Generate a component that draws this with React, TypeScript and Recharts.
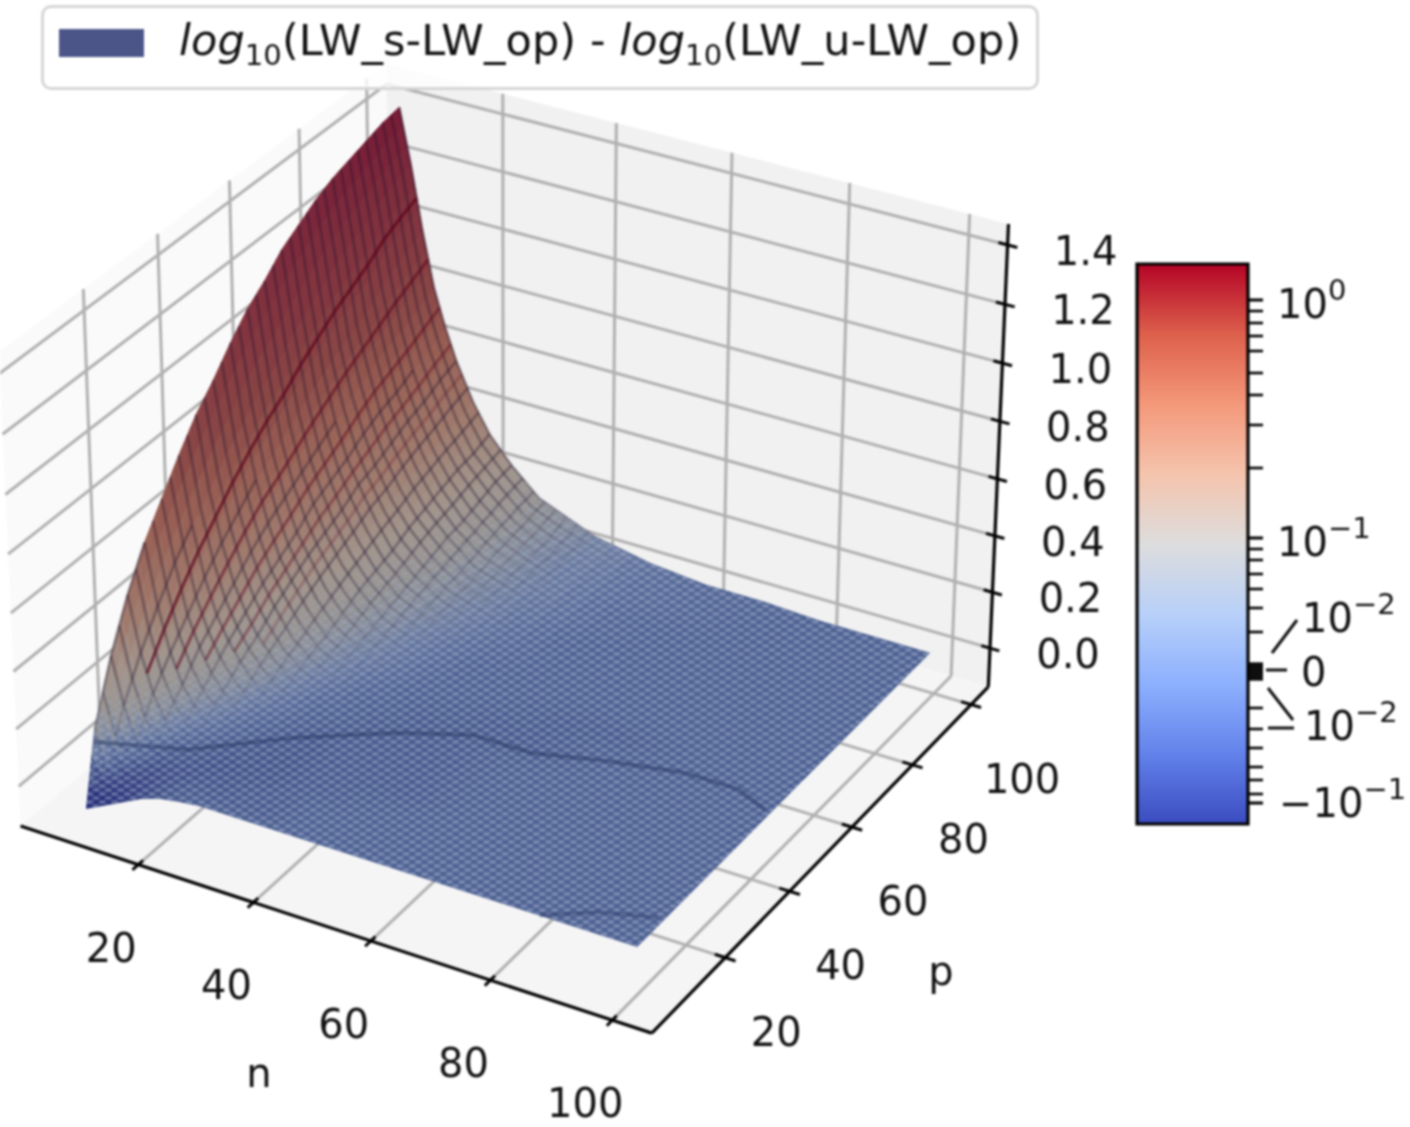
import React from "react";
import { ScatterChart, Scatter, XAxis, YAxis, Legend } from "recharts";

// ---------- data ----------
const nGrid = [5, 7, 9, 11, 13, 15, 18, 21, 25, 30, 35, 40, 50, 60, 70, 80, 90, 99];
const pGrid = [7, 10, 15, 20, 25, 30, 35, 40, 45, 50, 55, 60, 65, 70, 75, 80, 85, 90, 95, 100];
const zByP = [
  [-0.14,-0.12,-0.10,-0.08,-0.06,-0.04,-0.02,-0.01,0,0,0,0,0,0,0,0,0,0],
  [0.11,-0.01,-0.06,-0.06,-0.05,-0.04,-0.02,-0.01,-0.01,-0.01,-0.01,0,0,0,0,0,0,0],
  [0.31,0.15,0.04,-0.02,-0.04,-0.03,-0.03,-0.02,-0.02,-0.01,-0.01,0,0,0,0,0,0,0],
  [0.47,0.28,0.15,0.07,0.01,-0.01,-0.02,-0.03,-0.02,-0.02,-0.01,-0.01,0,0,0,0,0,0],
  [0.60,0.39,0.24,0.14,0.08,0.04,0,-0.01,-0.02,-0.02,-0.01,-0.01,-0.01,0,0,0,0,0],
  [0.70,0.49,0.32,0.22,0.14,0.09,0.03,0,-0.01,-0.02,-0.01,-0.01,-0.01,0,0,0,0,0],
  [0.80,0.57,0.40,0.28,0.20,0.14,0.07,0.03,0,-0.01,-0.01,-0.01,-0.01,0,0,0,0,0],
  [0.89,0.64,0.47,0.34,0.25,0.18,0.11,0.06,0.01,0,-0.01,-0.01,-0.01,0,0,0,0,0],
  [0.96,0.72,0.53,0.40,0.30,0.23,0.14,0.09,0.04,0,0,-0.01,-0.01,-0.01,0,0,0,0],
  [1.04,0.78,0.59,0.45,0.34,0.27,0.18,0.11,0.06,0.02,0,0,-0.01,-0.01,0,0,0,0],
  [1.11,0.85,0.63,0.49,0.38,0.31,0.21,0.14,0.08,0.04,0.01,0,0,-0.01,-0.01,0,0,0],
  [1.16,0.89,0.68,0.53,0.43,0.34,0.24,0.17,0.10,0.05,0.02,0,0,0,0,0,0,0],
  [1.22,0.95,0.73,0.57,0.46,0.37,0.27,0.19,0.12,0.07,0.03,0.01,0,0,0,0,0,0],
  [1.26,1.00,0.77,0.61,0.49,0.41,0.30,0.21,0.14,0.08,0.05,0.02,0,0,0,0,0,0],
  [1.30,1.05,0.81,0.65,0.53,0.43,0.32,0.24,0.16,0.09,0.06,0.03,0,0,0,0,0,0],
  [1.33,1.09,0.84,0.69,0.56,0.46,0.35,0.26,0.18,0.10,0.07,0.04,0.01,0,0,0,0,0],
  [1.35,1.12,0.88,0.72,0.58,0.49,0.37,0.28,0.19,0.12,0.08,0.05,0.01,0,0,0,0,0],
  [1.37,1.16,0.93,0.74,0.61,0.51,0.39,0.30,0.21,0.13,0.08,0.05,0.02,0.01,0,0,0,0],
  [1.39,1.19,0.96,0.77,0.64,0.54,0.41,0.31,0.23,0.14,0.09,0.06,0.02,0.01,0,0,0,0],
  [1.40,1.21,0.99,0.80,0.67,0.56,0.43,0.33,0.24,0.15,0.11,0.07,0.03,0.01,0.01,0,0,0],
];
const nTicks = [20, 40, 60, 80, 100];
const pTicks = [20, 40, 60, 80, 100];
const zTicks = [0, 0.2, 0.4, 0.6, 0.8, 1.0, 1.2, 1.4];
const seamN = [5, 15, 27, 40, 50, 60, 71, 83, 92, 98];
const seamP = [9.5, 20, 31, 40, 45, 45, 48, 51, 51, 48];
const seam2N = [83, 90, 98];
const seam2P = [7, 12, 15];
const ridgeN = [8, 10, 12, 14, 16];
const ridgeAlpha = [0.65, 0.5, 0.42, 0.35, 0.2];
const surfaceStops = [
  [-0.1, 42, 50, 122], [-0.05, 56, 68, 130], [-0.02, 68, 86, 138], [0, 78, 98, 146], [0.02, 88, 108, 152],
  [0.05, 105, 122, 160], [0.1, 130, 138, 152], [0.15, 142, 140, 140], [0.25, 150, 135, 125], [0.4, 150, 110, 95],
  [0.6, 145, 85, 72], [0.8, 132, 62, 60], [1.0, 125, 45, 54], [1.2, 118, 32, 50], [1.44, 110, 12, 42],
];
const coolwarmStops = ["#b40426", "#dd604c", "#f4987a", "#f5c4ad", "#dddddd", "#b8d0f9", "#8db0fe", "#6282ea", "#3b4cc0"];
const cbarMinorRows = [311, 323, 336, 351, 373, 395, 425, 468, 549, 560, 574, 589, 608, 632, 708, 729, 748, 767, 780, 794];
const cbarMajorRows = [300, 538, 803];
const cbarBlobRows = [664, 667, 670, 673, 676, 679];
const legendLabel = ["log", "10", "(LW_s-LW_op) - ", "log", "10", "(LW_u-LW_op)"];

// ---------- 3D view (matplotlib default elevation 30, azimuth -60) ----------
const NL = [-0.85, 106.4];
const PL = [-2, 106];
const ZL = [-0.14, 1.49];
const ZTOP = 1.47;
const FONT = "DejaVu Sans";

function project(n: number, p: number, z: number) {
  const dx = ((n - NL[0]) / (NL[1] - NL[0]) - 0.5) * 1.14286;
  const dy = ((p - PL[0]) / (PL[1] - PL[0]) - 0.5) * 1.14286;
  const dz = ((z - ZL[0]) / (ZL[1] - ZL[0]) - 0.5) * 0.85714;
  const u = dx * 0.86603 + dy * 0.5;
  const v = dx * -0.25 + dy * 0.43301 + dz * 0.86603;
  const w = dx * 0.43301 + dy * -0.75 + dz * 0.5;
  const depth = 10 - w;
  return { x: 6330 * (u / depth) + 513, y: 523 - 6390 * (v / depth), w };
}

function zAt(n: number, p: number) {
  let i = nGrid.findIndex((v, k) => k < nGrid.length - 1 && n <= nGrid[k + 1]);
  if (i < 0) i = nGrid.length - 2;
  let j = pGrid.findIndex((v, k) => k < pGrid.length - 1 && p <= pGrid[k + 1]);
  if (j < 0) j = pGrid.length - 2;
  const a = Math.min(1, Math.max(0, (n - nGrid[i]) / (nGrid[i + 1] - nGrid[i])));
  const b = Math.min(1, Math.max(0, (p - pGrid[j]) / (pGrid[j + 1] - pGrid[j])));
  return (
    zByP[j][i] * (1 - a) * (1 - b) + zByP[j][i + 1] * a * (1 - b) + zByP[j + 1][i] * (1 - a) * b + zByP[j + 1][i + 1] * a * b
  );
}

// how strongly the drawn mesh (rather than the flat dot texture) shows at height z
function meshWeight(z: number) {
  return Math.min(1, Math.max(0, (z - 0.02) / 0.2));
}

function surfaceColor(z: number) {
  const s = surfaceStops;
  const amount = meshWeight(z) * (z > 0.8 ? 0.05 : 0.12 - (0.07 * Math.max(0, z - 0.2)) / 0.6);
  const lift = (c: number[]) => {
    const v = c.map((k) => Math.round(k + (255 - k) * amount));
    return `rgb(${v[0]},${v[1]},${v[2]})`;
  };
  if (z <= s[0][0]) return lift([s[0][1], s[0][2], s[0][3]]);
  for (let i = 1; i < s.length; i++) {
    if (z <= s[i][0]) {
      const t = (z - s[i - 1][0]) / (s[i][0] - s[i - 1][0]);
      return lift([1, 2, 3].map((k) => s[i - 1][k] + (s[i][k] - s[i - 1][k]) * t));
    }
  }
  const e = s[s.length - 1];
  return lift([e[1], e[2], e[3]]);
}

function poly(pts: { x: number; y: number }[], style: any) {
  const x = pts.reduce((a, q) => a + q.x, 0) / pts.length;
  const y = pts.reduce((a, q) => a + q.y, 0) / pts.length;
  return { x, y, rel: pts.map((q) => [q.x - x, q.y - y]), ...style };
}
function seg(a: { x: number; y: number }, b: { x: number; y: number }, stroke: string, width: number) {
  return { x: a.x, y: a.y, dx: b.x - a.x, dy: b.y - a.y, stroke, width };
}
function path(pts: { x: number; y: number }[], stroke: string, width: number) {
  return { x: pts[0].x, y: pts[0].y, rel: pts.map((q) => [q.x - pts[0].x, q.y - pts[0].y]), stroke, width };
}

// ---------- marks ----------
const [n0, n1] = NL;
const [p0, p1] = PL;
const z0 = ZL[0];
const z1 = ZTOP;
const walls = [
  poly([project(n0, p0, z0), project(n0, p1, z0), project(n0, p1, z1), project(n0, p0, z1)], { fill: "#fafafa" }),
  poly([project(n0, p1, z0), project(n1, p1, z0), project(n1, p1, z1), project(n0, p1, z1)], { fill: "#f1f1f1" }),
  poly([project(n0, p0, z0), project(n1, p0, z0), project(n1, p1, z0), project(n0, p1, z0)], { fill: "#f5f5f5" }),
];
const GRID = "#b0b0b0";
const gridSegs: any[] = [];
nTicks.forEach((n) => {
  gridSegs.push(seg(project(n, p0, z0), project(n, p1, z0), GRID, 3));
  gridSegs.push(seg(project(n, p1, z0), project(n, p1, z1), GRID, 3));
});
pTicks.forEach((p) => {
  gridSegs.push(seg(project(n1, p, z0), project(n0, p, z0), GRID, 3));
  gridSegs.push(seg(project(n0, p, z0), project(n0, p, z1), GRID, 3));
});
zTicks.forEach((z) => {
  gridSegs.push(seg(project(n1, p1, z), project(n0, p1, z), GRID, 3));
  gridSegs.push(seg(project(n0, p1, z), project(n0, p0, z), GRID, 3));
});
const axisSegs: any[] = [
  seg(project(n0, p0, z0), project(n1, p0, z0), "#000", 3.2),
  seg(project(n1, p0, z0), project(n1, p1, z0), "#000", 3.2),
  seg(project(n1, p1, z0), project(n1, p1, z1), "#000", 3.2),
];
nTicks.forEach((n) => axisSegs.push(seg(project(n, p0 - 1.6, z0), project(n, p0 + 1.3, z0), "#000", 3)));
pTicks.forEach((p) => axisSegs.push(seg(project(n1 - 1.7, p, z0), project(n1 + 1.7, p, z0), "#000", 3)));
zTicks.forEach((z) => axisSegs.push(seg(project(n1 - 1.5, p1, z), project(n1 + 1.6, p1, z), "#000", 3)));

// surface facets: each measured table cell is shaded in three steps per side
const SHADE_STEPS = 3;
const corner = (n: number, p: number) => project(n, p, zAt(n, p));
const cells: any[] = [];
const flatCells: any[] = [];
for (let j = 0; j < pGrid.length - 1; j++) {
  for (let i = 0; i < nGrid.length - 1; i++) {
    for (let a = 0; a < SHADE_STEPS; a++) {
      for (let b = 0; b < SHADE_STEPS; b++) {
        const na = nGrid[i] + ((nGrid[i + 1] - nGrid[i]) * a) / SHADE_STEPS;
        const nb = nGrid[i] + ((nGrid[i + 1] - nGrid[i]) * (a + 1)) / SHADE_STEPS;
        const pa = pGrid[j] + ((pGrid[j + 1] - pGrid[j]) * b) / SHADE_STEPS;
        const pb = pGrid[j] + ((pGrid[j + 1] - pGrid[j]) * (b + 1)) / SHADE_STEPS;
        const pts = [corner(na, pa), corner(nb, pa), corner(nb, pb), corner(na, pb)];
        const zMid = zAt((na + nb) / 2, (pa + pb) / 2);
        const col = surfaceColor(zMid);
        cells.push({
          ...poly(pts, { fill: col, stroke: col }),
          depth: (pts[0].w + pts[1].w + pts[2].w + pts[3].w) / 4,
        });
        const w = meshWeight(zMid);
        if (w < 1) flatCells.push(poly(pts, { fill: "url(#meshDots)", opacity: 1 - w }));
      }
    }
  }
}
cells.sort((a, b) => a.depth - b.depth);

// mesh texture on the raised part: pieces of the surface lines at constant p and constant n
const meshLines: any[] = [];
function addMeshPiece(na: number, pa: number, nb: number, pb: number) {
  const w = meshWeight(zAt((na + nb) / 2, (pa + pb) / 2));
  if (w <= 0) return;
  meshLines.push(seg(corner(na, pa), corner(nb, pb), `rgba(28,15,45,${(0.32 * w).toFixed(3)})`, 2.8));
}
for (let p = 7.5; p <= 100; p += 2.5) {
  for (let i = 0; i < nGrid.length - 1; i++) {
    const mid = (nGrid[i] + nGrid[i + 1]) / 2;
    addMeshPiece(nGrid[i], p, mid, p);
    addMeshPiece(mid, p, nGrid[i + 1], p);
  }
}
for (let n = 5; n <= 40; n += 2) {
  for (let j = 0; j < pGrid.length - 1; j++) {
    const mid = (pGrid[j] + pGrid[j + 1]) / 2;
    if (zAt(n, mid) < 0.6) {
      addMeshPiece(n, pGrid[j], n, mid);
      addMeshPiece(n, mid, n, pGrid[j + 1]);
    }
  }
}
const ridges = ridgeN.map((n, i) =>
  path(pGrid.filter((p) => zAt(n, p) > 0.12).map((p) => corner(n, p)), `rgba(90,0,25,${ridgeAlpha[i]})`, 3.2)
);

const seamData = seamN.map((n, i) => project(n, seamP[i], zAt(n, seamP[i])));
const seam2Data = seam2N.map((n, i) => project(n, seam2P[i], zAt(n, seam2P[i])));

const CB = { l: 1137, r: 1248, t: 264, b: 824 };
const cbarBar = [
  poly(
    [{ x: CB.l, y: CB.t }, { x: CB.r, y: CB.t }, { x: CB.r, y: CB.b }, { x: CB.l, y: CB.b }],
    { fill: "url(#cbGrad)", stroke: "#000", sw: 3.2 }
  ),
];
const cbTicks: any[] = [];
cbarMajorRows.forEach((y) => cbTicks.push(seg({ x: CB.r, y }, { x: CB.r + 15, y }, "#000", 3)));
cbarMinorRows.forEach((y) => cbTicks.push(seg({ x: CB.r, y }, { x: CB.r + 15, y }, "#000", 2.6)));
cbarBlobRows.forEach((y) => cbTicks.push(seg({ x: CB.r, y }, { x: CB.r + 15, y }, "#000", 3.2)));
cbTicks.push(seg({ x: 1297, y: 620 }, { x: 1272, y: 653 }, "#111", 3));
cbTicks.push(seg({ x: 1266, y: 670 }, { x: 1287, y: 670 }, "#111", 3));
cbTicks.push(seg({ x: 1268, y: 688 }, { x: 1293, y: 720 }, "#111", 3));
cbTicks.push(seg({ x: 1268, y: 728 }, { x: 1294, y: 728 }, "#111", 3));

const labels: any[] = [];
nTicks.forEach((n) => {
  const q = project(n, p0, z0);
  labels.push({ x: q.x - 27, y: q.y + 83, text: String(n) });
});
pTicks.forEach((p) => {
  const q = project(n1, p, z0);
  labels.push({ x: q.x + 51, y: q.y + 74, text: String(p) });
});
zTicks.forEach((z) => {
  const q = project(n1, p1, z);
  labels.push({ x: q.x + 78, y: q.y + 6, text: z.toFixed(1) });
});
labels.push({ x: 259, y: 1073, text: "n" });
labels.push({ x: 941, y: 971, text: "p" });

const cbarLabels = [
  { x: 1277, y: 318, base: "10", sup: "0" },
  { x: 1277, y: 556, base: "10", sup: "−1" },
  { x: 1302, y: 632, base: "10", sup: "−2" },
  { x: 1301, y: 686, base: "0", sup: "" },
  { x: 1304, y: 740, base: "10", sup: "−2" },
  { x: 1279, y: 817, base: "−10", sup: "−1" },
];

// ---------- shapes ----------
const PolyShape = (props: any) => {
  const { cx, cy, payload: d } = props;
  const pts = d.rel.map((r: number[]) => `${cx + r[0]},${cy + r[1]}`).join(" ");
  return <polygon points={pts} fill={d.fill} stroke={d.stroke || "none"} strokeWidth={d.sw || (d.stroke ? 1 : 0)} />;
};
const FlatShape = (props: any) => {
  const { cx, cy, payload: d } = props;
  const pts = d.rel.map((r: number[]) => `${cx + r[0]},${cy + r[1]}`).join(" ");
  return <polygon points={pts} fill={d.fill} fillOpacity={d.opacity} shapeRendering="crispEdges" />;
};
const PathShape = (props: any) => {
  const { cx, cy, payload: d } = props;
  const pts = d.rel.map((r: number[]) => `${cx + r[0]},${cy + r[1]}`).join(" ");
  return <polyline points={pts} fill="none" stroke={d.stroke} strokeWidth={d.width} />;
};
const SegShape = (props: any) => {
  const { cx, cy, payload: d } = props;
  return <line x1={cx} y1={cy} x2={cx + d.dx} y2={cy + d.dy} stroke={d.stroke} strokeWidth={d.width} />;
};
const TextShape = (props: any) => {
  const { cx, cy, payload: d } = props;
  return (
    <text x={cx} y={cy} textAnchor="middle" dominantBaseline="central" fontFamily={FONT} fontSize={40} fill="#111">
      {d.text}
    </text>
  );
};
const CbarText = (props: any) => {
  const { cx, cy, payload: d } = props;
  return (
    <text x={cx} y={cy} fontFamily={FONT} fontSize={40} fill="#111">
      {d.base}
      {d.sup ? (
        <tspan dy={-18} fontSize={29}>
          {d.sup}
        </tspan>
      ) : null}
    </text>
  );
};
const NoDot = () => <g />;

const LegendBox = () => (
  <div
    style={{
      width: 998,
      height: 85,
      boxSizing: "border-box",
      border: "3px solid #d6d6d6",
      borderRadius: 10,
      background: "rgba(255,255,255,0.8)",
      position: "relative",
      fontFamily: FONT,
      fontSize: 43,
      letterSpacing: "0.09px",
      color: "#111",
      whiteSpace: "nowrap",
    }}
  >
    <div style={{ position: "absolute", left: 15, top: 21, width: 85, height: 28, background: "#4b5587" }} />
    <div style={{ position: "absolute", left: 135, top: 6, lineHeight: "52px" }}>
      <i>{legendLabel[0]}</i>
      <sub style={{ fontSize: 29, lineHeight: 0 }}>{legendLabel[1]}</sub>
      {legendLabel[2]}
      <i>{legendLabel[3]}</i>
      <sub style={{ fontSize: 29, lineHeight: 0 }}>{legendLabel[4]}</sub>
      {legendLabel[5]}
    </div>
  </div>
);

export default function App() {
  return (
    <div style={{ position: "absolute", left: 0, top: 0, width: 1410, height: 1127, filter: "blur(0.8px)", overflow: "hidden" }}>
      <ScatterChart width={1410} height={1127} margin={{ top: 0, right: 0, bottom: 0, left: 0 }}>
        <defs>
          <linearGradient id="cbGrad" x1="0" y1="0" x2="0" y2="1">
            {coolwarmStops.map((c, i) => (
              <stop key={i} offset={i / (coolwarmStops.length - 1)} stopColor={c} />
            ))}
          </linearGradient>
          <pattern id="meshDots" width="12.4" height="8" patternUnits="userSpaceOnUse">
            <ellipse cx="3" cy="2" rx="3.7" ry="1.7" fill="rgba(195,205,230,0.4)" />
            <ellipse cx="9.2" cy="6" rx="3.7" ry="1.7" fill="rgba(195,205,230,0.4)" />
          </pattern>
        </defs>
        <XAxis type="number" dataKey="x" domain={[0, 1410]} hide allowDataOverflow />
        <YAxis type="number" dataKey="y" domain={[0, 1127]} reversed hide allowDataOverflow />
        <Legend
          layout="horizontal"
          verticalAlign="middle"
          align="center"
          content={LegendBox}
          wrapperStyle={{ left: 41, top: 5, width: 998, height: 85 }}
        />
        <Scatter name="walls" data={walls} shape={PolyShape} isAnimationActive={false} />
        <Scatter name="grid" data={gridSegs} shape={SegShape} isAnimationActive={false} />
        <Scatter name="axes" data={axisSegs} shape={SegShape} isAnimationActive={false} />
        <Scatter name="surface" data={cells} shape={PolyShape} isAnimationActive={false} />
        <Scatter name="flat texture" data={flatCells} shape={FlatShape} isAnimationActive={false} />
        <Scatter name="mesh" data={meshLines} shape={SegShape} isAnimationActive={false} />
        <Scatter name="ridges" data={ridges} shape={PathShape} isAnimationActive={false} />
        <Scatter name="seam" data={seamData} shape={NoDot} line={{ stroke: "rgba(40,55,100,0.5)", strokeWidth: 4 }} isAnimationActive={false} />
        <Scatter name="seam2" data={seam2Data} shape={NoDot} line={{ stroke: "rgba(40,55,100,0.4)", strokeWidth: 4 }} isAnimationActive={false} />
        <Scatter name="labels" data={labels} shape={TextShape} isAnimationActive={false} />
        <Scatter name="colorbar" data={cbarBar} shape={PolyShape} isAnimationActive={false} />
        <Scatter name="colorbar ticks" data={cbTicks} shape={SegShape} isAnimationActive={false} />
        <Scatter name="colorbar labels" data={cbarLabels} shape={CbarText} isAnimationActive={false} />
      </ScatterChart>
    </div>
  );
}
